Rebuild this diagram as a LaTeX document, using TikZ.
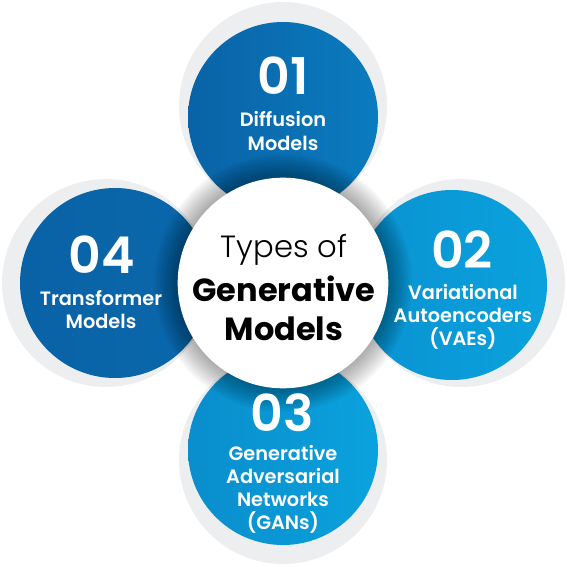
\documentclass[tikz,border=0pt]{standalone}
\usepackage{fontspec}
\setmainfont{Poppins}
\newfontfamily\popsemi{Poppins SemiBold}
\newfontfamily\poplight{Poppins Light}
\usetikzlibrary{positioning}

\definecolor{halogray}{HTML}{EDEEF0}
\definecolor{deepblue}{HTML}{0A62A6}
\definecolor{midblue}{HTML}{0A7CBF}
\definecolor{skyblue}{HTML}{0A92D1}
\definecolor{lightblue}{HTML}{0AA2DD}

\tikzset{
  halo/.style={circle, fill=halogray, minimum size=156pt, inner sep=0pt},
  petal/.style={circle, minimum size=142.5pt, inner sep=0pt},
  hub/.style={circle, fill=white, minimum size=158pt, inner sep=0pt},
  numtext/.style={text=white, inner sep=0pt, font=\popsemi\fontsize{38}{40}\selectfont},
  petaltext/.style={text=white, inner sep=0pt, align=center, font=\popsemi\fontsize{14.5}{17.3}\selectfont},
}

\begin{document}
\begin{tikzpicture}[x=0.75pt, y=-0.75pt]
    \useasboundingbox (0,0) rectangle (567,567);

    % grey rings behind the petals
    \node[halo] (h1) at (283,106) {};
    \node[halo] (h2) at (461,283) {};
    \node[halo] (h3) at (283,460) {};
    \node[halo] (h4) at (106,283) {};

    % petals
    \node[petal, left color=deepblue, right color=midblue]    (p1) at (283,117) {};
    \node[petal, left color=skyblue, right color=lightblue]   (p2) at (452,285) {};
    \node[petal, left color=skyblue!90!deepblue, right color=lightblue] (p3) at (283,450) {};
    \node[petal, left color=deepblue, right color=deepblue!80!midblue]  (p4) at (115,283) {};

    % soft shadow round the centre
    \coordinate (mid) at (283,283);
    \foreach \r in {1,...,12}
        \fill[black, opacity=0.03] (mid) circle (105+2*\r);

    \node[hub] (core) at (mid) {};

    % numbers and names
    \node[numtext] (n1) at (283,76)  {01};
    \node[petaltext] (t1) at (283,131) {Diffusion\\Models};

    \node[numtext] (n2) at (462,250) {02};
    \node[petaltext] (t2) at (463,317) {Variational\\Autoencoders\\(VAEs)};

    \node[numtext] (n3) at (282,413) {03};
    \node[petaltext] (t3) at (283,489) {Generative\\Adversarial\\Networks\\(GANs)};

    \node[numtext] (n4) at (102,255) {04};
    \node[petaltext] (t4) at (101,310) {Transformer\\Models};

    % centre title
    \node[inner sep=0pt, font=\poplight\fontsize{23}{26}\selectfont] (ttl) at (284,250) {Types of};
    \node[align=center, inner sep=0pt, font=\bfseries\fontsize{24}{29}\selectfont] (sub) at (284,308)
        {Generative\\Models};
\end{tikzpicture}
\end{document}
